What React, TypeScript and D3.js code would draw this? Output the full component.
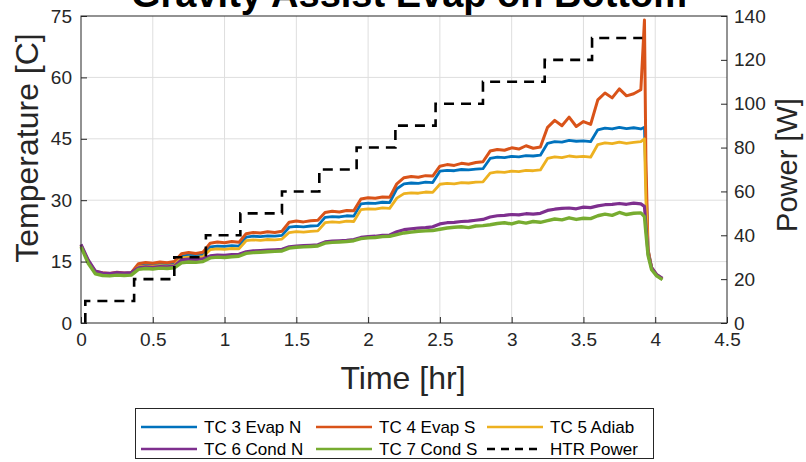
import * as d3 from 'd3'
import {useRef, useEffect} from 'react'

// time axis [hr]
const times = [
  0, 0.05, 0.1, 0.15, 0.2, 0.25, 0.3, 0.35, 0.4, 0.45, 0.5, 0.55, 0.6, 0.65,
  0.7, 0.75, 0.8, 0.85, 0.9, 0.95, 1.0, 1.05, 1.1, 1.15, 1.2, 1.25, 1.3, 1.35,
  1.4, 1.45, 1.5, 1.55, 1.6, 1.65, 1.7, 1.75, 1.8, 1.85, 1.9, 1.95, 2.0, 2.05,
  2.1, 2.15, 2.2, 2.25, 2.3, 2.35, 2.4, 2.45, 2.5, 2.55, 2.6, 2.65, 2.7, 2.75,
  2.8, 2.85, 2.9, 2.95, 3.0, 3.05, 3.1, 3.15, 3.2, 3.25, 3.3, 3.35, 3.4, 3.45,
  3.5, 3.55, 3.6, 3.65, 3.7, 3.75, 3.8, 3.85, 3.9,
  3.925, 3.935, 3.95, 3.975, 4.01, 4.05,
]

// temperatures [C]
const tc3 = [
  19.0, 15.0, 12.4, 12.0, 11.9, 12.1, 12.0, 12.1,
  14.1, 14.3, 14.2, 14.4, 14.3, 14.5,
  16.4, 16.6, 16.5, 16.7,
  18.6, 18.8, 18.7, 18.9, 18.8,
  21.0, 21.2, 21.1, 21.3, 21.2, 21.4,
  23.4, 23.6, 23.5, 23.7, 23.8,
  25.8, 26.0, 25.9, 26.2, 26.1,
  29.1, 29.3, 29.2, 29.5, 29.4,
  32.8, 34.0, 34.2, 34.1, 34.4, 34.3,
  37.1, 37.3, 37.2, 37.5, 37.4, 37.6, 37.7,
  40.2, 40.5, 40.4, 40.7, 40.6, 40.9, 40.8, 41.0,
  43.9, 44.3, 44.2, 44.6, 44.4, 44.5, 44.3,
  47.2, 47.6, 47.4, 47.8, 47.5, 47.7, 47.4,
  47.8, 35.0, 18.0, 13.3, 11.6, 10.7,
]
const tc4 = [
  19.0, 15.2, 12.6, 12.3, 12.1, 12.4, 12.2, 12.3,
  14.5, 14.8, 14.6, 14.9, 14.7, 15.0,
  16.9, 17.2, 17.0, 17.3,
  19.5, 19.8, 19.6, 19.9, 19.7,
  21.8, 22.1, 22.0, 22.3, 22.1, 22.4,
  24.6, 24.9, 24.7, 25.0, 25.1,
  27.0, 27.3, 27.1, 27.5, 27.4,
  30.3, 30.6, 30.5, 30.8, 30.7,
  34.0, 35.5, 35.8, 35.6, 36.0, 35.9,
  38.3, 38.7, 38.5, 39.0, 38.8, 39.2, 39.4,
  42.0, 42.4, 42.2, 42.8, 42.5, 43.3, 42.7, 43.0,
  47.8, 49.5, 48.2, 50.3, 48.0, 49.2, 48.5,
  54.5, 56.2, 55.0, 57.2, 55.5, 56.0, 57.0,
  74.0, 40.0, 18.0, 13.5, 11.8, 10.8,
]
const tc5 = [
  18.8, 14.8, 12.3, 11.9, 11.8, 12.0, 11.9, 12.0,
  13.7, 13.9, 13.8, 14.0, 13.9, 14.1,
  15.9, 16.1, 16.0, 16.2,
  17.9, 18.1, 18.0, 18.2, 18.1,
  20.1, 20.3, 20.2, 20.4, 20.3, 20.5,
  22.1, 22.3, 22.2, 22.4, 22.5,
  24.5, 24.7, 24.6, 24.9, 24.8,
  27.7, 27.9, 27.8, 28.1, 28.0,
  30.5, 31.6, 31.8, 31.7, 32.0, 31.9,
  33.9, 34.1, 34.0, 34.3, 34.2, 34.4, 34.5,
  36.6, 36.9, 36.8, 37.1, 37.0, 37.3, 37.2, 37.4,
  40.2, 40.6, 40.4, 40.8, 40.6, 40.7, 40.5,
  43.6, 44.0, 43.8, 44.2, 43.9, 44.1, 44.3,
  45.0, 30.0, 17.5, 13.2, 11.6, 10.7,
]
const tc6 = [
  19.2, 15.4, 12.7, 12.2, 12.1, 12.3, 12.2, 12.3,
  13.5, 13.7, 13.6, 13.8, 13.7, 13.9,
  15.4, 15.6, 15.5, 15.7,
  16.4, 16.6, 16.5, 16.7, 16.8,
  17.4, 17.6, 17.7, 17.8, 17.9, 18.0,
  18.6, 18.8, 18.9, 19.0, 19.1,
  19.8, 20.0, 20.1, 20.2, 20.4,
  20.9, 21.1, 21.2, 21.4, 21.5,
  22.3, 22.8, 23.0, 23.2, 23.3, 23.5,
  24.2, 24.5, 24.6, 24.8, 24.9, 25.1, 25.3,
  25.9, 26.2, 26.3, 26.5, 26.4, 26.7, 26.6, 26.8,
  27.5, 27.8, 28.0, 28.1, 27.9, 28.3, 28.2,
  28.6, 28.9, 29.0, 29.2, 29.0, 29.3, 29.1,
  28.5, 24.0, 17.0, 13.5, 11.8, 10.9,
]
const tc7 = [
  18.6, 14.6, 12.0, 11.6, 11.5, 11.7, 11.6, 11.7,
  13.1, 13.3, 13.2, 13.4, 13.3, 13.5,
  14.7, 14.9, 14.8, 15.0,
  15.9, 16.1, 16.0, 16.2, 16.3,
  17.0, 17.2, 17.3, 17.4, 17.5, 17.6,
  18.3, 18.5, 18.6, 18.7, 18.8,
  19.5, 19.7, 19.8, 19.9, 20.1,
  20.6, 20.8, 20.9, 21.1, 21.2,
  21.6, 22.0, 22.2, 22.4, 22.5, 22.6,
  22.9, 23.2, 23.4, 23.5, 23.3, 23.7, 23.8,
  24.0, 24.3, 24.5, 24.2, 24.7, 24.4, 24.8, 24.6,
  25.0, 25.4, 25.2, 25.7, 25.3, 25.6, 25.5,
  26.2, 26.6, 26.3, 27.0, 26.5, 26.8, 26.9,
  26.0, 22.0, 16.5, 13.0, 11.5, 10.6,
]

// heater power [W], step changes
const powerTimes = [0.03, 0.03, 0.37, 0.65, 0.87, 1.11, 1.40, 1.66, 1.92, 2.19, 2.47, 2.80, 3.23, 3.56, 3.91]
const powerValues = [0, 10, 20, 30, 40, 50, 60, 70, 80, 90, 100, 110, 120, 130, 130]

const xTicks = [0, 0.5, 1, 1.5, 2, 2.5, 3, 3.5, 4, 4.5]
const tempTicks = [0, 15, 30, 45, 60, 75]
const powerTicks = [0, 20, 40, 60, 80, 100, 120, 140]

const seriesNames = ['TC 3 Evap N', 'TC 4 Evap S', 'TC 5 Adiab', 'TC 6 Cond N', 'TC 7 Cond S']
const seriesColors = ['#0072BD', '#D95319', '#EDB120', '#7E2F8E', '#77AC30']
const seriesWidths = [2.8, 3.0, 2.8, 3.2, 3.4]
const seriesData = [tc3, tc4, tc5, tc6, tc7]

const FONT = '"Liberation Sans", Arial, Helvetica, sans-serif'
const INK = '#262626'

const App = () => {
  const svgRef = useRef<SVGSVGElement>(null)

  useEffect(() => {
    const svg = d3.select(svgRef.current)
    svg.selectAll('*').remove()

    const left = 81, right = 727, top = 16, bottom = 323
    const x = d3.scaleLinear().domain([0, 4.5]).range([left, right])
    const yT = d3.scaleLinear().domain([0, 75]).range([bottom, top])
    const yP = d3.scaleLinear().domain([0, 140]).range([bottom, top])

    // grid
    const grid = svg.append('g').attr('stroke', '#dedede').attr('stroke-width', 1)
    grid.selectAll('line.v')
      .data(xTicks.slice(1, -1))
      .join('line')
      .attr('x1', (d) => x(d)).attr('x2', (d) => x(d))
      .attr('y1', top).attr('y2', bottom)
    grid.selectAll('line.h')
      .data(tempTicks.slice(1, -1))
      .join('line')
      .attr('x1', left).attr('x2', right)
      .attr('y1', (d) => yT(d)).attr('y2', (d) => yT(d))

    // temperature lines
    const line = d3.line<number>()
      .x((d, i) => x(times[i]))
      .y((d) => yT(d))

    seriesData.forEach((s, k) => {
      svg.append('path')
        .attr('d', line(s))
        .attr('fill', 'none')
        .attr('stroke', seriesColors[k])
        .attr('stroke-width', seriesWidths[k])
        .attr('stroke-linejoin', 'round')
    })

    // heater power
    const stepLine = d3.line<number>()
      .x((d, i) => x(powerTimes[i]))
      .y((d) => yP(d))
      .curve(d3.curveStepAfter)

    svg.append('path')
      .attr('d', stepLine(powerValues))
      .attr('fill', 'none')
      .attr('stroke', '#000')
      .attr('stroke-width', 2.6)
      .attr('stroke-dasharray', '10,7')

    // axes
    const styleAxis = (g) => {
      g.select('.domain').remove()
      g.selectAll('line').attr('stroke', INK)
      g.selectAll('text')
        .attr('fill', INK)
        .style('font-family', FONT)
        .style('font-size', '19px')
    }

    svg.append('g')
      .attr('transform', `translate(0,${bottom})`)
      .call(d3.axisBottom(x).tickValues(xTicks).tickSize(-6).tickPadding(10).tickFormat((d) => String(d)))
      .call(styleAxis)

    svg.append('g')
      .attr('transform', `translate(${left},0)`)
      .call(d3.axisLeft(yT).tickValues(tempTicks).tickSize(-6).tickPadding(9).tickFormat((d) => String(d)))
      .call(styleAxis)

    svg.append('g')
      .attr('transform', `translate(${right},0)`)
      .call(d3.axisRight(yP).tickValues(powerTicks).tickSize(-6).tickPadding(7).tickFormat((d) => String(d)))
      .call(styleAxis)

    // box
    svg.append('rect')
      .attr('x', left).attr('y', top)
      .attr('width', right - left).attr('height', bottom - top)
      .attr('fill', 'none').attr('stroke', INK).attr('stroke-width', 1)

    // titles
    svg.append('text')
      .attr('x', 409).attr('y', 7)
      .attr('text-anchor', 'middle')
      .style('font-family', FONT).style('font-size', '38px').style('font-weight', 'bold')
      .attr('fill', '#000')
      .text('Gravity Assist Evap on Bottom')

    svg.append('text')
      .attr('x', 403).attr('y', 389)
      .attr('text-anchor', 'middle')
      .style('font-family', FONT).style('font-size', '32px')
      .attr('fill', INK)
      .text('Time [hr]')

    svg.append('text')
      .attr('transform', 'translate(38,148) rotate(-90)')
      .attr('text-anchor', 'middle')
      .style('font-family', FONT).style('font-size', '32px')
      .attr('fill', INK)
      .text('Temperature [C]')

    svg.append('text')
      .attr('transform', 'translate(797,165) rotate(-90)')
      .attr('text-anchor', 'middle')
      .style('font-family', FONT).style('font-size', '29px')
      .attr('fill', INK)
      .text('Power [W]')

    // legend
    const legend = svg.append('g')
    legend.append('rect')
      .attr('x', 135.5).attr('y', 408.5)
      .attr('width', 518).attr('height', 50)
      .attr('fill', '#fff').attr('stroke', INK).attr('stroke-width', 1)

    const colX = [141, 316, 487]
    const rowY = [427, 449]
    const items = seriesNames.map((n, k) => ({name: n, color: seriesColors[k], dash: null}))
    items.push({name: 'HTR Power', color: '#000', dash: '8,6'})

    items.forEach((it, k) => {
      const cx = colX[k % 3]
      const cy = rowY[Math.floor(k / 3)]
      legend.append('line')
        .attr('x1', cx).attr('x2', cx + 56)
        .attr('y1', cy).attr('y2', cy)
        .attr('stroke', it.color).attr('stroke-width', 2.4)
        .attr('stroke-dasharray', it.dash)
      legend.append('text')
        .attr('x', cx + 63).attr('y', cy)
        .attr('dy', '0.35em')
        .style('font-family', FONT).style('font-size', '17px')
        .attr('fill', '#000')
        .text(it.name)
    })
  }, [])

  return (
    <svg ref={svgRef} width={806} height={462}
         style={{position: 'absolute', left: 0, top: 0, background: '#fff'}}/>
  )
}

export default App
